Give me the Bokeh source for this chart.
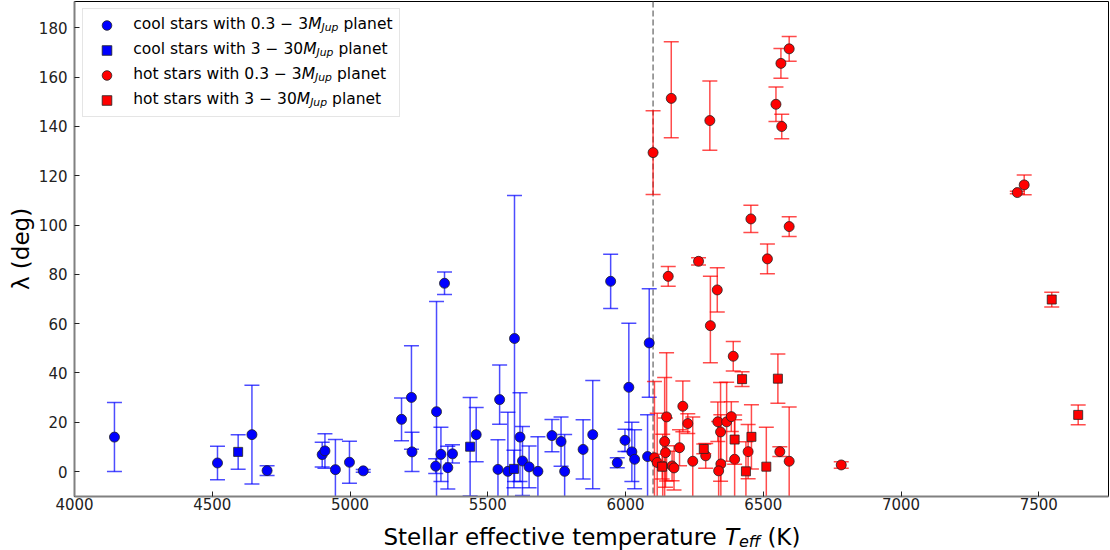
from bokeh.plotting import figure
from bokeh.layouts import column
from bokeh.models import (ColumnDataSource, Range1d, FixedTicker, Span, Label,
                          Legend, LegendItem)
from bokeh.embed import file_html
from bokeh.resources import INLINE

# ---------------- data ----------------
# cool stars, 0.3-3 MJup planets (circles)
cool_c_teff = [4145, 4519, 4644, 4699, 4899, 4909, 4947, 4998, 5048, 5187,
               5223, 5225, 5314, 5311, 5330, 5355, 5372, 5343, 5458, 5543,
               5537, 5573, 5597, 5617, 5626, 5650, 5682, 5733, 5766, 5779,
               5846, 5881, 5946, 5970, 5998, 6012, 6023, 6033, 6086, 6080]
cool_c_lam = [14.0, 3.5, 15.0, 0.4, 6.9, 8.4, 0.8, 3.8, 0.3, 21.2,
              30.1, 8.0, 24.3, 2.2, 7.0, 1.6, 7.2, 76.4, 15.0, 29.2,
              0.9, 0.1, 54.0, 14.0, 4.3, 1.9, 0.1, 14.6, 12.2, 0.1,
              9.0, 15.0, 77.2, 3.6, 12.7, 34.2, 8.0, 5.0, 52.2, 6.1]
cool_c_elo = [14, 6.8, 20, 2, 5, 7, 12.2, 8.5, 0.6, 8.7,
              21, 8, 44.7, 3, 11, 8.7, 3.7, 4.6, 11, 10,
              12, 24, 58, 18, 14, 8.5, 14, 6.5, 10, 15,
              12, 22, 11, 2, 4.5, 26, 12, 12, 22, 17]
cool_c_ehi = [14, 6.8, 20, 2, 5, 7, 12.2, 8.5, 0.6, 8.7,
              21, 8, 44.7, 3, 11, 8.7, 3.7, 4.6, 11, 14,
              12, 24, 58, 18, 14, 8.5, 14, 6.5, 10, 15,
              12, 22, 11, 2, 4.5, 26, 12, 12, 22, 17]

# cool stars, 3-30 MJup planets (squares)
cool_s_teff = [4594, 5436, 5595]
cool_s_lam = [8.0, 10.1, 1.1]
cool_s_elo = [7, 20, 7.6]
cool_s_ehi = [7, 20, 7.6]

# hot stars, 0.3-3 MJup planets (circles)
hot_c_teff = [6100, 6166, 6306, 6546, 6564, 6594, 6567, 6455, 6594, 6515,
              6265, 6155, 6333, 6308, 6391, 7422, 7447, 6208, 6149, 6226,
              6335, 6367, 6384, 6345, 6142, 6145, 6196, 6244, 6291, 6105,
              6115, 6169, 6176, 6135, 6445, 6560, 6594, 6396, 6346, 6338,
              6783]
hot_c_lam = [129.4, 151.4, 142.4, 149.0, 165.6, 171.5, 140.0, 102.5, 99.4, 86.3,
             85.3, 79.2, 73.7, 59.2, 46.8, 113.2, 116.3, 26.5, 22.2, 19.5,
             20.2, 20.2, 22.3, 16.1, 12.2, 7.7, 9.7, 4.2, 6.4, 5.6,
             3.7, 2.3, 1.5, 2.2, 8.1, 8.1, 4.2, 5.0, 3.1, 0.3,
             2.7]
hot_c_elo = [17, 16, 12, 7, 6, 5, 5, 5.5, 4, 6,
             1.5, 4, 9, 15, 6, 0.5, 4, 10.3, 26, 4,
             8, 16, 6, 20, 26, 14, 7.3, 18, 5, 31,
             20, 6, 9, 13, 11, 2, 22, 16, 20, 20,
             1.3]
hot_c_ehi = [17, 23, 16, 7, 6, 5, 5, 5.5, 4, 6,
             1.5, 4, 9, 20, 6, 0.5, 4, 10.3, 26, 4,
             8, 16, 6, 20, 26, 14, 7.3, 18, 5, 31,
             20, 6, 9, 13, 11, 2, 22, 16, 20, 20,
             1.3]

# hot stars, 3-30 MJup planets (squares)
hot_s_teff = [6133, 6284, 6396, 6423, 6437, 6457, 6511, 6553, 7547, 7643]
hot_s_lam = [2.0, 9.2, 13.0, 37.5, 0.1, 14.1, 2.0, 37.7, 69.8, 23.0]
hot_s_elo = [5, 2, 10, 3, 12, 13, 16, 10, 3, 4]
hot_s_ehi = [5, 2, 10, 3, 12, 13, 16, 10, 3, 4]

x_ticks = [4000, 4500, 5000, 5500, 6000, 6500, 7000, 7500]
y_ticks = [0, 20, 40, 60, 80, 100, 120, 140, 160, 180]
teff_boundary = 6100

legend_prefix = ["cool stars with", "cool stars with", "hot stars with", "hot stars with"]
legend_range = ["0.3 − 3", "3 − 30", "0.3 − 3", "3 − 30"]

# ---------------- figure ----------------
W = 1110
H1, H2 = 515, 35
FL, FR, FT, FB = 74, 2, 1, 19

p = figure(width=W, height=H1, output_backend="svg", toolbar_location=None,
           title=None,
           x_range=Range1d(4000, 7753), y_range=Range1d(-10.1, 190.7),
           min_border_left=FL, min_border_right=FR,
           min_border_top=FT, min_border_bottom=FB)
p.xgrid.visible = False
p.ygrid.visible = False
p.outline_line_color = "black"
p.outline_line_width = 1
p.background_fill_color = "white"
p.border_fill_color = "white"

for ax in (p.xaxis[0], p.yaxis[0]):
    ax.axis_line_color = "#808080"
    ax.axis_line_width = 2
    ax.major_tick_in = 5
    ax.major_tick_out = 0
    ax.major_tick_line_color = "#222222"
    ax.minor_tick_line_color = None
    ax.major_label_text_font = "DejaVu Sans"
    ax.major_label_text_font_size = "15px"
    ax.major_label_text_color = "#222222"
p.xaxis.major_label_standoff = 1
p.yaxis.major_label_standoff = 7
p.xaxis.ticker = FixedTicker(ticks=x_ticks)
p.yaxis.ticker = FixedTicker(ticks=y_ticks)
p.yaxis.axis_label = "λ (deg)"
p.yaxis.axis_label_text_font = "DejaVu Sans"
p.yaxis.axis_label_text_font_size = "23px"
p.yaxis.axis_label_text_font_style = "normal"
p.yaxis.axis_label_text_color = "black"
p.yaxis.axis_label_standoff = 2

p.add_layout(Span(location=teff_boundary, dimension="height", line_color="#808080",
                  line_dash="6 3", line_width=1.5, level="underlay"))


def draw(teff, lam, elo, ehi, marker, color, size):
    lo = [l - e for l, e in zip(lam, elo)]
    hi = [l + e for l, e in zip(lam, ehi)]
    src = ColumnDataSource(dict(x=teff, y=lam, lo=lo, hi=hi))
    p.segment(x0="x", y0="lo", x1="x", y1="hi", source=src,
              line_color=color, line_alpha=0.7, line_width=1.5)
    for col in ("lo", "hi"):
        p.scatter(x="x", y=col, marker="dash", size=15, source=src,
                  line_color=color, line_alpha=0.7, line_width=1.5)
    return p.scatter(x="x", y="y", marker=marker, size=size, source=src,
                     fill_color=color, line_color="#222222", line_width=0.8)


r1 = draw(cool_c_teff, cool_c_lam, cool_c_elo, cool_c_ehi, "circle", "#0000ff", 10)
r2 = draw(cool_s_teff, cool_s_lam, cool_s_elo, cool_s_ehi, "square", "#0000ff", 9)
r3 = draw(hot_c_teff, hot_c_lam, hot_c_elo, hot_c_ehi, "circle", "#ff0000", 10)
r4 = draw(hot_s_teff, hot_s_lam, hot_s_elo, hot_s_ehi, "square", "#ff0000", 9)

legend = Legend(items=[LegendItem(label=" ", renderers=[r]) for r in (r1, r2, r3, r4)],
                location=(8, 379), glyph_width=39, glyph_height=24,
                label_width=264, label_height=24, label_standoff=5,
                spacing=1, padding=4, margin=0,
                border_line_color="#cccccc", border_line_width=1,
                background_fill_color=None, label_text_font_size="15px")
p.add_layout(legend)

# character advance widths (em) of DejaVu Sans, for placing text pieces
ADV = {' ': 0.318, 'c': 0.550, 'o': 0.612, 'l': 0.278, 's': 0.521, 't': 0.392,
       'a': 0.613, 'r': 0.411, 'w': 0.818, 'i': 0.278, 'h': 0.634, '.': 0.318,
       '−': 0.838, 'p': 0.635, 'n': 0.634, 'e': 0.615, 'f': 0.352, 'm': 0.974,
       'u': 0.634, '(': 0.390, ')': 0.390, 'K': 0.656, 'S': 0.635, 'v': 0.592,
       'M': 0.863, 'T': 0.611, 'J': 0.295}


def tw(s, fs):
    return sum(ADV.get(ch, 0.636) for ch in s) * fs


def lab(fig, x, y, text, fs, style="normal", baseline="middle"):
    fig.add_layout(Label(x=x, y=y, x_units="screen", y_units="screen", text=text,
                         text_font="DejaVu Sans", text_font_size=f"{fs}px",
                         text_font_style=style, text_color="black",
                         text_baseline=baseline, text_align="left",
                         level="overlay"))


fs = 15.5
row_y = [472.7, 447.7, 422.7, 397.7]
for pre, rng, y in zip(legend_prefix, legend_range, row_y):
    s1 = f"{pre} {rng}"
    x0 = 58.7
    lab(p, x0, y, s1, fs)
    x1 = x0 + tw(s1, fs)
    lab(p, x1, y, "M", fs, "italic")
    x2 = x1 + ADV['M'] * fs
    lab(p, x2, y - 4, "Jup", round(fs * 0.7, 1), "italic")
    x3 = x2 + tw("Jup", fs * 0.7) + ADV[' '] * fs
    lab(p, x3, y, "planet", fs)

# x axis label (with subscript) in a thin strip below the plot
# (the column aligns this strip's frame with the main frame, left edge at FL)
p2 = figure(width=W, height=H2, output_backend="svg", toolbar_location=None,
            title=None, x_axis_location=None, y_axis_location=None,
            x_range=Range1d(0, 1), y_range=Range1d(0, 1),
            min_border_left=0, min_border_right=0, min_border_top=0,
            min_border_bottom=0)
p2.xgrid.visible = False
p2.ygrid.visible = False
p2.outline_line_color = None
p2.background_fill_color = "white"
p2.border_fill_color = "white"

xf = 23
base = 13.6
xl0 = 383 - FL
lab(p2, xl0, base, "Stellar effective temperature", xf, baseline="alphabetic")
xl1 = xl0 + tw("Stellar effective temperature ", xf)
lab(p2, xl1, base, "T", xf, "italic", baseline="alphabetic")
xl2 = xl1 + ADV['T'] * xf
lab(p2, xl2, base - 5, "eff", 16, "italic", baseline="alphabetic")
xl3 = xl2 + tw("eff", 16) + ADV[' '] * xf
lab(p2, xl3, base, "(K)", xf, baseline="alphabetic")

layout = column(p, p2, spacing=0)
open("out.html", "w").write(file_html(layout, INLINE))
